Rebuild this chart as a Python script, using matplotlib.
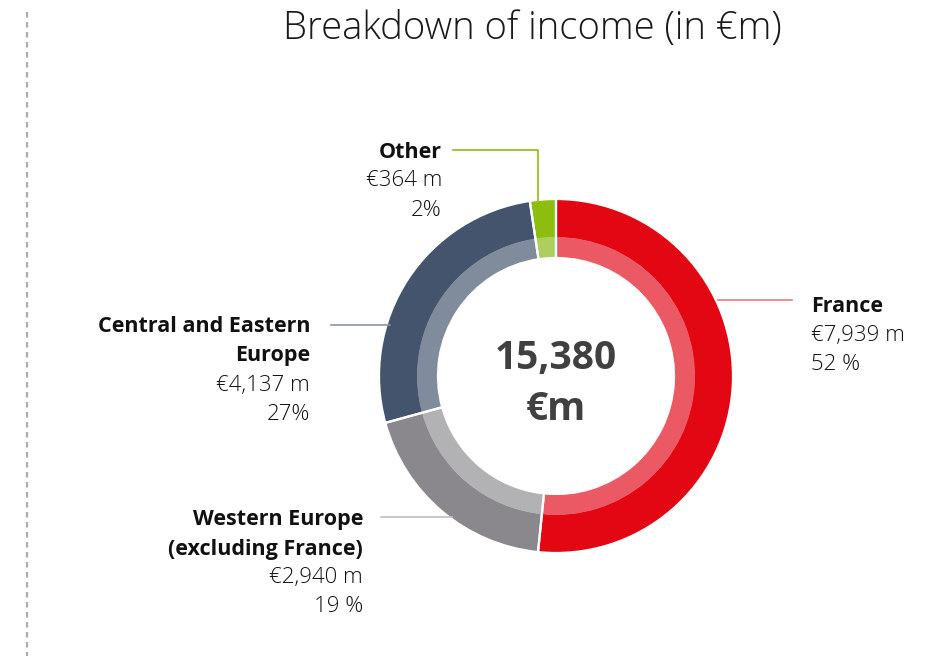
import matplotlib
matplotlib.use("Agg")
import matplotlib.pyplot as plt

# Data
regions = ["France", "Western Europe\n(excluding France)", "Central and Eastern\nEurope", "Other"]
values = [7939, 2940, 4137, 364]
value_labels = ["€7,939 m", "€2,940 m", "€4,137 m", "€364 m"]
pct_labels = ["52 %", "19 %", "27%", "2%"]
total_label = "15,380\n€m"
title = "Breakdown of income (in €m)"

outer_colors = ["#E30613", "#8A888D", "#44546C", "#8CBD0F"]
inner_colors = ["#EB5A64", "#B2B1B4", "#808C9C", "#AECF5F"]
line_colors = ["#EE7A82", "#BDBDBD", "#8E96A4", "#8CBD0F"]

W, H = 940, 656
fig = plt.figure(figsize=(W / 100, H / 100), dpi=100)
ax = fig.add_axes([0, 0, 1, 1])

def Y(y):
    return H - y

cx, cy = 556, Y(376)
R = 177
RM = 139
RI = 118

ax.pie(values, colors=outer_colors, startangle=90, counterclock=False,
       radius=R, center=(cx, cy), frame=True,
       wedgeprops=dict(width=R - RM + 0.5, linewidth=0))
ax.pie(values, colors=inner_colors, startangle=90, counterclock=False,
       radius=RM, center=(cx, cy), frame=True,
       wedgeprops=dict(width=RM - RI, linewidth=0))
ax.pie(values, colors=["none"] * len(values), startangle=90, counterclock=False,
       radius=R, center=(cx, cy), frame=True,
       wedgeprops=dict(width=R - RI, edgecolor="white", linewidth=1.6))
ax.set_xlim(0, W)
ax.set_ylim(0, H)
ax.axis("off")

fam = ["Open Sans", "DejaVu Sans"]

# Title
ax.text(532, Y(29), title, ha="center", va="center", fontsize=27.5,
        fontfamily=fam, fontweight="light", color="#1a1a1a")

# Center text
ax.text(cx, Y(384), total_label, ha="center", va="center", fontsize=28,
        fontfamily=fam, fontweight="bold", color="#404040", linespacing=1.4)

# Dashed vertical line
ax.plot([27, 27], [Y(12), Y(656)], color="#ADADAD", lw=1.6,
        linestyle=(0, (2.5, 2.0)))

# Leader lines
ax.plot([453, 538, 538], [Y(150), Y(150), Y(202)], color=line_colors[3], lw=1.2)
ax.plot([718, 792], [Y(300), Y(300)], color=line_colors[0], lw=1.2)
ax.plot([331, 390], [Y(325), Y(325)], color=line_colors[2], lw=1.2)
ax.plot([381, 452], [Y(517), Y(517)], color=line_colors[1], lw=1.2)

fs_b = 15.5
fs_l = 16
dy = 29

def label(x, y0, name, val, pct, ha):
    lines = name.split("\n")
    y = y0
    for ln in lines:
        ax.text(x, Y(y), ln, ha=ha, va="center", fontsize=fs_b, fontfamily=fam,
                fontweight="bold", color="#111111")
        y += dy
    ax.text(x, Y(y), val, ha=ha, va="center", fontsize=fs_l, fontfamily=fam,
            fontweight="light", color="#111111")
    y += dy
    ax.text(x, Y(y), pct, ha=ha, va="center", fontsize=fs_l, fontfamily=fam,
            fontweight="light", color="#111111")

label(811, 306, regions[0], value_labels[0], pct_labels[0], "left")
label(363, 520, regions[1], value_labels[1], pct_labels[1], "right")
label(310, 327, regions[2], value_labels[2], pct_labels[2], "right")
label(442, 152, regions[3], value_labels[3], pct_labels[3], "right")

fig.savefig("out.png", dpi=100)
